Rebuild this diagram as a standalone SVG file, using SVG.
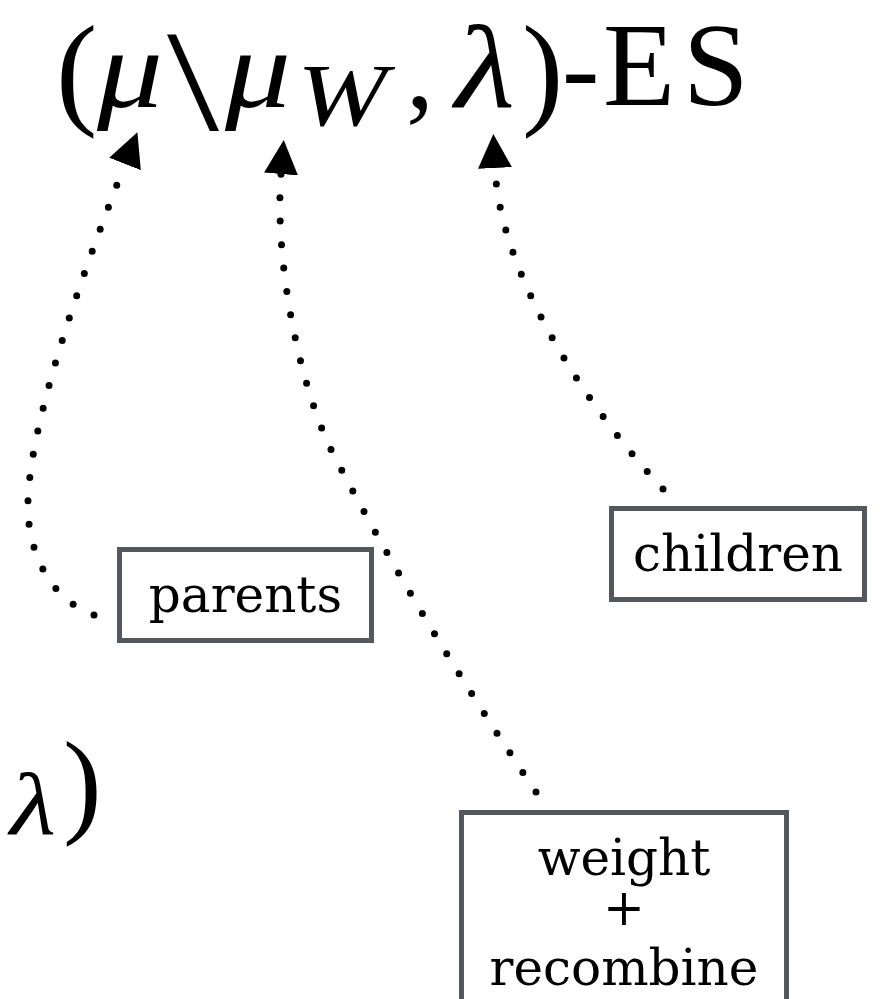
<svg xmlns="http://www.w3.org/2000/svg" width="880" height="999" viewBox="0 0 880 999">
  <defs>
    <style>
      .math { font-family: "Liberation Serif", "Times New Roman", serif; fill: #000; }
      .it { font-style: italic; }
      .box { fill: #fff; stroke: #54585d; stroke-width: 5; }
      .lbl { font-family: "DejaVu Serif", serif; font-size: 50px; fill: #000; text-anchor: middle; }
      .dot { fill: none; stroke: #000; stroke-width: 7; stroke-linecap: round; stroke-dasharray: 0 23.5; marker-end: url(#head); }
    </style>
    <marker id="head" markerUnits="userSpaceOnUse" viewBox="0 0 34 34" markerWidth="34" markerHeight="34" refX="0" refY="17" orient="auto">
      <path d="M0,0 L34,17 L0,34 Z" fill="#000"/>
    </marker>
  </defs>
  <rect width="880" height="999" fill="#fff"/>

  <g id="title">
    <text class="math" x="56" y="112" font-size="124">(</text>
    <text class="math it" x="97" y="107" font-size="112" textLength="66" lengthAdjust="spacingAndGlyphs">μ</text>
    <text class="math" x="167" y="130" font-size="145" textLength="52" lengthAdjust="spacingAndGlyphs">\</text>
    <text class="math it" x="225" y="107" font-size="112" textLength="66" lengthAdjust="spacingAndGlyphs">μ</text>
    <text class="math it" x="297" y="125" font-size="88" textLength="90" lengthAdjust="spacingAndGlyphs">W</text>
    <text class="math" x="406" y="108" font-size="112">,</text>
    <text class="math it" x="455" y="107" font-size="118" textLength="60" lengthAdjust="spacingAndGlyphs">λ</text>
    <text class="math" x="522" y="112" font-size="124">)</text>
    <text class="math" x="562" y="105" font-size="112">-</text>
    <text class="math" x="603" y="105" font-size="118">E</text>
    <text class="math" x="683" y="105" font-size="118">S</text>
  </g>

  <g id="formula-partial">
    <text class="math it" x="10" y="834" font-size="88" textLength="46" lengthAdjust="spacingAndGlyphs">λ</text>
    <text class="math" x="63" y="822" font-size="116">)</text>
  </g>

  <g id="connectors">
    <path class="dot" d="M94,615 C50,600 26,550 28,500 C30,440 60,330 125,164"/>
    <path class="dot" d="M536,792 Q420,620 338,463 C300,395 274,260 281,174"/>
    <path class="dot" d="M663,489 C580,400 500,270 495,168"/>
  </g>

  <g id="parents">
    <rect class="box" x="119.5" y="549.5" width="252" height="91"/>
    <text class="lbl" x="245.5" y="612">parents</text>
  </g>

  <g id="children">
    <rect class="box" x="611.5" y="508.5" width="253" height="91"/>
    <text class="lbl" x="738" y="571">children</text>
  </g>

  <g id="weight-recombine">
    <rect class="box" x="461.5" y="812.5" width="325" height="200"/>
    <text class="lbl" x="624" y="875">weight</text>
    <text class="lbl" x="624" y="925" font-size="34">+</text>
    <text class="lbl" x="624" y="985">recombine</text>
  </g>
</svg>
